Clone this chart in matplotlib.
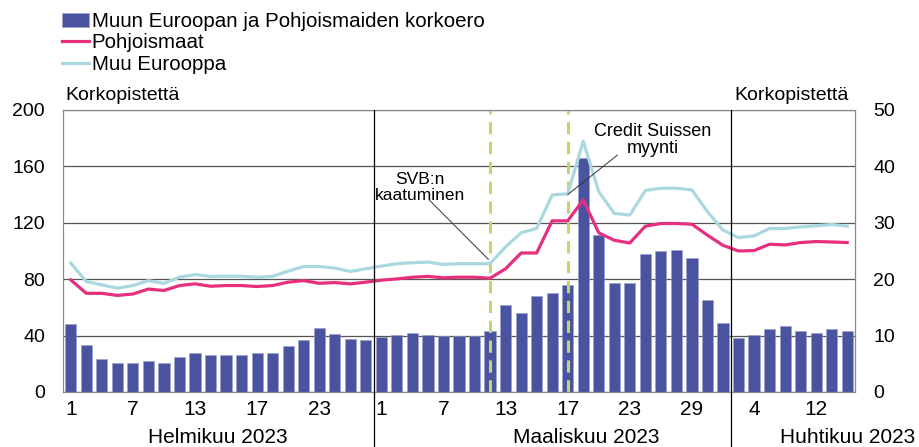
import numpy as np
import matplotlib.pyplot as plt
from matplotlib import transforms

plt.rcParams['font.family'] = ['Liberation Sans', 'DejaVu Sans']

# Päivät (pankkipäivät) helmi-huhtikuu 2023
feb_days = [1, 2, 3, 6, 7, 8, 9, 10, 13, 14, 15, 16, 17, 20, 21, 22, 23, 24, 27, 28]
mar_days = [1, 2, 3, 6, 7, 8, 9, 10, 13, 14, 15, 16, 17, 20, 21, 22, 23, 24, 27, 28, 29, 30, 31]
apr_days = [3, 4, 5, 6, 11, 12, 13, 14]

# Korkoero (oikea akseli)
korkoero = [12.1, 8.4, 5.9, 5.1, 5.2, 5.5, 5.2, 6.2, 6.9, 6.6, 6.5, 6.5, 7.0, 6.9, 8.1, 9.3, 11.4, 10.2, 9.4, 9.3,
            9.8, 10.1, 10.4, 10.1, 9.9, 9.9, 9.9, 10.8, 15.5, 14.0, 17.0, 17.6, 18.9, 41.5, 27.9, 19.3, 19.4,
            24.4, 25.0, 25.1, 23.7, 16.3, 12.3,
            9.5, 10.1, 11.2, 11.7, 10.9, 10.5, 11.2, 10.8]

# Pohjoismaat (vasen akseli)
pohjoismaat = [79.5, 70.0, 70.0, 68.5, 69.5, 73.0, 72.0, 75.5, 76.7, 75.0, 75.5, 75.5, 74.8, 75.5, 77.9, 79.0, 77.1, 77.6, 76.7, 77.9,
               79.3, 80.2, 81.4, 82.0, 81.0, 81.4, 81.4, 80.7, 87.4, 98.6, 98.6, 121.4, 121.4, 136.2, 112.9, 107.6, 105.7,
               117.6, 119.5, 119.5, 119.0, 111.2, 104.0,
               100.0, 100.3, 104.8, 104.3, 106.0, 106.7, 106.4, 106.0]

# Muu Eurooppa (vasen akseli)
muu_eurooppa = [91.4, 78.3, 76.0, 73.6, 75.5, 79.0, 77.0, 81.4, 83.3, 82.0, 82.1, 82.1, 81.4, 82.0, 85.7, 89.0, 89.0, 87.9, 85.5, 87.4,
                89.3, 91.0, 91.7, 92.1, 90.5, 91.0, 91.0, 91.0, 102.9, 112.9, 116.0, 139.8, 140.5, 177.9, 142.1, 126.7, 125.5,
                142.9, 144.5, 144.5, 143.3, 127.9, 114.8,
                109.5, 110.7, 116.0, 116.0, 117.1, 117.9, 118.8, 117.6]

feb_ticks = [1, 7, 13, 17, 23]
mar_ticks = [1, 7, 13, 17, 23, 29]
apr_ticks = [4, 12]

months = ['Helmikuu 2023', 'Maaliskuu 2023', 'Huhtikuu 2023']

x = np.arange(len(korkoero))
n_feb, n_mar = len(feb_days), len(mar_days)

tick_pos, tick_lab = [], []
for offset, days, show in [(0, feb_days, feb_ticks), (n_feb, mar_days, mar_ticks),
                           (n_feb + n_mar, apr_days, apr_ticks)]:
    for i, d in enumerate(days):
        if d in show:
            tick_pos.append(offset + i)
            tick_lab.append(str(d))

fig = plt.figure(figsize=(9.2, 4.47), dpi=100)
ax = fig.add_axes([63 / 920, 1 - 392 / 447, 792 / 920, 282 / 447])

# pylväät oikealle akselille
ax.bar(x, korkoero, width=0.72, color='#4a53a0', edgecolor='#9aa0cc', linewidth=0.4, zorder=2,
       label='Muun Euroopan ja Pohjoismaiden korkoero')
ax.set_ylim(0, 50)
ax.set_xlim(-0.5, len(x) - 0.5)
ax.set_yticks(np.arange(0, 51, 10))
ax.grid(axis='y', color='#555555', linewidth=0.9, zorder=0)
ax.set_axisbelow(True)

ax.set_xticks(tick_pos)
ax.set_xticklabels(tick_lab, fontsize=15)
ax.tick_params(axis='x', length=0, pad=6)

# viivat vasemmalle akselille
ax2 = ax.twinx()
ax.yaxis.tick_right()
ax.tick_params(axis='y', length=0, pad=13, labelsize=14)
ax2.yaxis.tick_left()
ax2.set_ylim(0, 200)
ax2.set_yticks(np.arange(0, 201, 40))
ax2.tick_params(axis='y', length=0, pad=13, labelsize=14)
l1, = ax2.plot(x, pohjoismaat, color='#e6307f', linewidth=2.3, zorder=4, label='Pohjoismaat')
l2, = ax2.plot(x, muu_eurooppa, color='#a9d9df', linewidth=2.3, zorder=3, label='Muu Eurooppa')

for a in (ax, ax2):
    for s in a.spines.values():
        s.set_color('#8a8a8a')
        s.set_linewidth(0.8)

# tapahtumat
svb_i = n_feb + mar_days.index(10)
cs_i = n_feb + mar_days.index(17)
for xi in (svb_i, cs_i):
    ax2.axvline(xi, color='#c6d66e', linewidth=2.2, linestyle=(0, (4, 2.5)), zorder=2)

# kuukausien erottimet
for xi in (n_feb - 0.5, n_feb + n_mar - 0.5):
    ax2.axvline(xi, ymin=-0.195, ymax=1, color='black', linewidth=0.9, clip_on=False, zorder=5)

ax2.text(22.5, 145, 'SVB:n\nkaatuminen', ha='center', va='center', fontsize=12.5, linespacing=1.05)
ax2.annotate('', xy=(svb_i - 0.1, 94), xytext=(23.1, 136),
             arrowprops=dict(arrowstyle='-', color='#333333', lw=0.7, shrinkA=0, shrinkB=0))
ax2.text(37.5, 179, 'Credit Suissen\nmyynti', ha='center', va='center', fontsize=13, linespacing=1.0)
ax2.annotate('', xy=(cs_i, 140), xytext=(35.2, 168),
             arrowprops=dict(arrowstyle='-', color='#333333', lw=0.7, shrinkA=0, shrinkB=0))

# kuukausien nimet
trans = transforms.blended_transform_factory(ax.transData, ax.transAxes)
for xm, ha, name in zip([9.5, 33.2, 54.4], ['center', 'center', 'right'], months):
    ax.text(xm, -0.16, name, transform=trans, ha=ha, va='center', fontsize=15, clip_on=False)

ax.text(0.003, 1.02, 'Korkopistettä', transform=ax.transAxes, ha='left', va='bottom', fontsize=14)
ax.text(0.992, 1.02, 'Korkopistettä', transform=ax.transAxes, ha='right', va='bottom', fontsize=14)

bars_handle = ax.containers[0]
fig.legend([bars_handle, l1, l2], [bars_handle.get_label(), l1.get_label(), l2.get_label()],
           loc='upper left', bbox_to_anchor=(62 / 920, 1 - 12 / 447), frameon=False, fontsize=14.8,
           borderpad=0, handlelength=1.3, handletextpad=0.15, labelspacing=0.12, borderaxespad=0)

fig.savefig('out.png', dpi=100)
